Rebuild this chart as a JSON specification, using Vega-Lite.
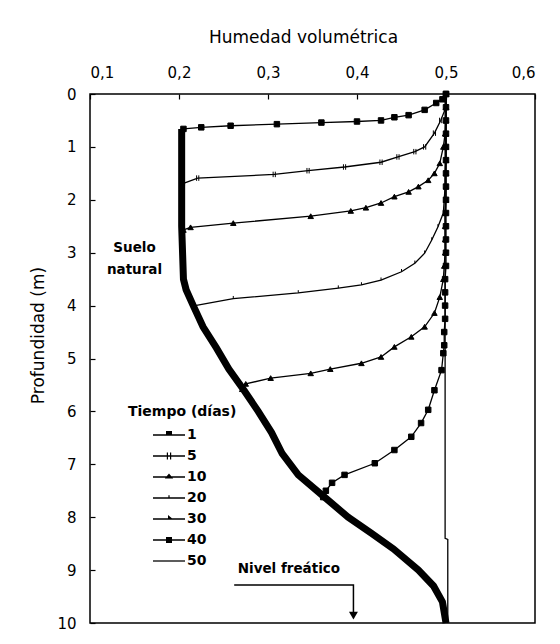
{
  "$schema": "https://vega.github.io/schema/vega-lite/v6.json",
  "width": 445,
  "height": 529,
  "autosize": {"type": "none"},
  "padding": {"left": 90, "top": 94, "right": 25, "bottom": 21},
  "background": "white",
  "config": {
    "font": "DejaVu Sans",
    "view": {"stroke": "black", "strokeWidth": 1.5},
    "axis": {"grid": false, "domain": false, "tickColor": "black", "tickSize": -5, "tickWidth": 1.2, "labelColor": "black", "titleColor": "black", "labelFontSize": 15, "titleFontSize": 17, "titleFontWeight": "normal", "labelPadding": 19}
  },
  "datasets": {
    "curvas": [
      {"dias": 1, "prof": 0, "hum": 0.5}, {"dias": 1, "prof": 0.1, "hum": 0.496}, {"dias": 1, "prof": 0.17, "hum": 0.489}, {"dias": 1, "prof": 0.3, "hum": 0.476}, {"dias": 1, "prof": 0.4, "hum": 0.458}, {"dias": 1, "prof": 0.44, "hum": 0.442}, {"dias": 1, "prof": 0.5, "hum": 0.427}, {"dias": 1, "prof": 0.52, "hum": 0.4}, {"dias": 1, "prof": 0.54, "hum": 0.36}, {"dias": 1, "prof": 0.57, "hum": 0.31}, {"dias": 1, "prof": 0.6, "hum": 0.258}, {"dias": 1, "prof": 0.63, "hum": 0.225}, {"dias": 1, "prof": 0.66, "hum": 0.205},
      {"dias": 5, "prof": 0, "hum": 0.5}, {"dias": 5, "prof": 0.25, "hum": 0.5}, {"dias": 5, "prof": 0.5, "hum": 0.494}, {"dias": 5, "prof": 0.74, "hum": 0.487}, {"dias": 5, "prof": 1.0, "hum": 0.476}, {"dias": 5, "prof": 1.09, "hum": 0.465}, {"dias": 5, "prof": 1.19, "hum": 0.446}, {"dias": 5, "prof": 1.29, "hum": 0.427}, {"dias": 5, "prof": 1.38, "hum": 0.386}, {"dias": 5, "prof": 1.45, "hum": 0.345}, {"dias": 5, "prof": 1.52, "hum": 0.307}, {"dias": 5, "prof": 1.59, "hum": 0.221}, {"dias": 5, "prof": 1.69, "hum": 0.205},
      {"dias": 10, "prof": 0, "hum": 0.5}, {"dias": 10, "prof": 0.25, "hum": 0.5}, {"dias": 10, "prof": 0.5, "hum": 0.5}, {"dias": 10, "prof": 0.75, "hum": 0.499}, {"dias": 10, "prof": 1.0, "hum": 0.497}, {"dias": 10, "prof": 1.31, "hum": 0.493}, {"dias": 10, "prof": 1.5, "hum": 0.487}, {"dias": 10, "prof": 1.63, "hum": 0.48}, {"dias": 10, "prof": 1.75, "hum": 0.469}, {"dias": 10, "prof": 1.85, "hum": 0.458}, {"dias": 10, "prof": 1.94, "hum": 0.442}, {"dias": 10, "prof": 2.06, "hum": 0.427}, {"dias": 10, "prof": 2.15, "hum": 0.41}, {"dias": 10, "prof": 2.21, "hum": 0.393}, {"dias": 10, "prof": 2.31, "hum": 0.348}, {"dias": 10, "prof": 2.44, "hum": 0.261}, {"dias": 10, "prof": 2.52, "hum": 0.213}, {"dias": 10, "prof": 2.57, "hum": 0.205},
      {"dias": 20, "prof": 0, "hum": 0.5}, {"dias": 20, "prof": 0.25, "hum": 0.5}, {"dias": 20, "prof": 0.5, "hum": 0.5}, {"dias": 20, "prof": 0.75, "hum": 0.5}, {"dias": 20, "prof": 1.0, "hum": 0.5}, {"dias": 20, "prof": 1.25, "hum": 0.5}, {"dias": 20, "prof": 1.5, "hum": 0.499}, {"dias": 20, "prof": 1.75, "hum": 0.499}, {"dias": 20, "prof": 2.0, "hum": 0.498}, {"dias": 20, "prof": 2.25, "hum": 0.497}, {"dias": 20, "prof": 2.51, "hum": 0.491}, {"dias": 20, "prof": 2.76, "hum": 0.484}, {"dias": 20, "prof": 3.01, "hum": 0.476}, {"dias": 20, "prof": 3.2, "hum": 0.465}, {"dias": 20, "prof": 3.36, "hum": 0.45}, {"dias": 20, "prof": 3.52, "hum": 0.427}, {"dias": 20, "prof": 3.61, "hum": 0.405}, {"dias": 20, "prof": 3.67, "hum": 0.379}, {"dias": 20, "prof": 3.76, "hum": 0.334}, {"dias": 20, "prof": 3.87, "hum": 0.261}, {"dias": 20, "prof": 4.0, "hum": 0.218},
      {"dias": 30, "prof": 0, "hum": 0.5}, {"dias": 30, "prof": 0.25, "hum": 0.5}, {"dias": 30, "prof": 0.5, "hum": 0.5}, {"dias": 30, "prof": 0.75, "hum": 0.5}, {"dias": 30, "prof": 1.0, "hum": 0.5}, {"dias": 30, "prof": 1.25, "hum": 0.5}, {"dias": 30, "prof": 1.5, "hum": 0.5}, {"dias": 30, "prof": 1.75, "hum": 0.5}, {"dias": 30, "prof": 2.0, "hum": 0.5}, {"dias": 30, "prof": 2.25, "hum": 0.499}, {"dias": 30, "prof": 2.5, "hum": 0.499}, {"dias": 30, "prof": 2.75, "hum": 0.499}, {"dias": 30, "prof": 3.0, "hum": 0.499}, {"dias": 30, "prof": 3.25, "hum": 0.498}, {"dias": 30, "prof": 3.5, "hum": 0.497}, {"dias": 30, "prof": 3.84, "hum": 0.493}, {"dias": 30, "prof": 4.14, "hum": 0.487}, {"dias": 30, "prof": 4.4, "hum": 0.476}, {"dias": 30, "prof": 4.59, "hum": 0.461}, {"dias": 30, "prof": 4.78, "hum": 0.442}, {"dias": 30, "prof": 4.97, "hum": 0.427}, {"dias": 30, "prof": 5.09, "hum": 0.405}, {"dias": 30, "prof": 5.2, "hum": 0.37}, {"dias": 30, "prof": 5.28, "hum": 0.348}, {"dias": 30, "prof": 5.37, "hum": 0.303}, {"dias": 30, "prof": 5.48, "hum": 0.275}, {"dias": 30, "prof": 5.58, "hum": 0.271},
      {"dias": 40, "prof": 0, "hum": 0.5}, {"dias": 40, "prof": 0.25, "hum": 0.5}, {"dias": 40, "prof": 0.5, "hum": 0.5}, {"dias": 40, "prof": 0.75, "hum": 0.5}, {"dias": 40, "prof": 1.0, "hum": 0.5}, {"dias": 40, "prof": 1.25, "hum": 0.5}, {"dias": 40, "prof": 1.5, "hum": 0.5}, {"dias": 40, "prof": 1.75, "hum": 0.5}, {"dias": 40, "prof": 2.0, "hum": 0.5}, {"dias": 40, "prof": 2.25, "hum": 0.5}, {"dias": 40, "prof": 2.5, "hum": 0.5}, {"dias": 40, "prof": 2.75, "hum": 0.5}, {"dias": 40, "prof": 3.0, "hum": 0.5}, {"dias": 40, "prof": 3.25, "hum": 0.5}, {"dias": 40, "prof": 3.5, "hum": 0.499}, {"dias": 40, "prof": 3.75, "hum": 0.499}, {"dias": 40, "prof": 4.0, "hum": 0.499}, {"dias": 40, "prof": 4.25, "hum": 0.499}, {"dias": 40, "prof": 4.5, "hum": 0.498}, {"dias": 40, "prof": 4.75, "hum": 0.498}, {"dias": 40, "prof": 4.9, "hum": 0.497}, {"dias": 40, "prof": 5.22, "hum": 0.495}, {"dias": 40, "prof": 5.6, "hum": 0.487}, {"dias": 40, "prof": 5.97, "hum": 0.48}, {"dias": 40, "prof": 6.22, "hum": 0.472}, {"dias": 40, "prof": 6.48, "hum": 0.461}, {"dias": 40, "prof": 6.73, "hum": 0.442}, {"dias": 40, "prof": 6.98, "hum": 0.42}, {"dias": 40, "prof": 7.2, "hum": 0.386}, {"dias": 40, "prof": 7.35, "hum": 0.372}, {"dias": 40, "prof": 7.5, "hum": 0.365}, {"dias": 40, "prof": 7.62, "hum": 0.362},
      {"dias": 50, "prof": 0, "hum": 0.499}, {"dias": 50, "prof": 8.4, "hum": 0.499}, {"dias": 50, "prof": 8.42, "hum": 0.502}, {"dias": 50, "prof": 10, "hum": 0.502}
    ],
    "natural": [
      {"prof": 0.66, "hum": 0.203}, {"prof": 1.5, "hum": 0.203}, {"prof": 2.5, "hum": 0.203}, {"prof": 3.5, "hum": 0.205}, {"prof": 3.7, "hum": 0.208}, {"prof": 4.0, "hum": 0.216}, {"prof": 4.4, "hum": 0.227}, {"prof": 4.8, "hum": 0.242}, {"prof": 5.2, "hum": 0.256}, {"prof": 5.6, "hum": 0.273}, {"prof": 6.0, "hum": 0.289}, {"prof": 6.4, "hum": 0.304}, {"prof": 6.8, "hum": 0.316}, {"prof": 7.2, "hum": 0.334}, {"prof": 7.6, "hum": 0.362}, {"prof": 8.0, "hum": 0.39}, {"prof": 8.3, "hum": 0.416}, {"prof": 8.6, "hum": 0.441}, {"prof": 9.0, "hum": 0.469}, {"prof": 9.3, "hum": 0.486}, {"prof": 9.6, "hum": 0.496}, {"prof": 10, "hum": 0.5}
    ],
    "textos": [
      {"hum": 0.15, "prof": 2.91, "texto": "Suelo"},
      {"hum": 0.15, "prof": 3.33, "texto": "natural"},
      {"hum": 0.3235, "prof": 8.98, "texto": "Nivel freático"}
    ],
    "flecha": [
      {"paso": 1, "hum": 0.262, "prof": 9.28},
      {"paso": 2, "hum": 0.396, "prof": 9.28},
      {"paso": 3, "hum": 0.396, "prof": 9.8}
    ],
    "punta": [
      {"hum": 0.396, "prof": 9.86}
    ]
  },
  "resolve": {"scale": {"shape": "independent"}},
  "layer": [
    {
      "data": {"name": "natural"},
      "mark": {"type": "line", "color": "black", "strokeWidth": 7, "clip": false},
      "encoding": {
        "x": {"field": "hum", "type": "quantitative", "scale": {"domain": [0.1, 0.6], "nice": false, "zero": false},
          "axis": {"orient": "top", "values": [0.1, 0.2, 0.3, 0.4, 0.5, 0.6], "labelExpr": "replace(format(datum.value, '.1f'), '.', ',')", "title": "Humedad volumétrica", "titleBaseline": "middle", "titleY": -57, "titleX": 213}},
        "y": {"field": "prof", "type": "quantitative", "scale": {"domain": [0, 10], "reverse": true, "nice": false, "zero": false},
          "axis": {"values": [0, 1, 2, 3, 4, 5, 6, 7, 8, 9, 10], "title": "Profundidad (m)", "titleAngle": -90, "titleBaseline": "middle", "titleAlign": "center", "titleX": -52, "titleY": 241}},
        "order": {"field": "prof", "type": "quantitative"}
      }
    },
    {
      "data": {"name": "curvas"},
      "mark": {"type": "line", "color": "black", "strokeWidth": 1.3, "clip": false},
      "encoding": {
        "x": {"field": "hum", "type": "quantitative"},
        "y": {"field": "prof", "type": "quantitative"},
        "detail": {"field": "dias", "type": "nominal"},
        "order": {"field": "prof", "type": "quantitative"}
      }
    },
    {
      "data": {"name": "curvas"},
      "transform": [{"filter": "datum.dias != 50"}],
      "mark": {"type": "point", "filled": true, "color": "black", "stroke": "black", "strokeWidth": 1, "size": 30, "opacity": 1, "clip": false},
      "encoding": {
        "x": {"field": "hum", "type": "quantitative"},
        "y": {"field": "prof", "type": "quantitative"},
        "shape": {"field": "dias", "type": "nominal", "scale": {"domain": [1, 5, 10, 20, 30, 40], "range": ["square", "M-0.4,-1V1M0.4,-1V1", "triangle-up", "M0,-1V0", "triangle-up", "square"]}, "legend": null}
      }
    },
    {
      "data": {"name": "curvas"},
      "mark": {"type": "point", "filled": true, "color": "black", "opacity": 0},
      "encoding": {
        "x": {"field": "hum", "type": "quantitative"},
        "y": {"field": "prof", "type": "quantitative"},
        "shape": {"field": "dias", "type": "nominal", "sort": [1, 5, 10, 20, 30, 40, 50],
          "scale": {"domain": [1, 5, 10, 20, 30, 40, 50], "range": [
            "M2.125,-0.08H6.125V0.08H2.125ZM3.75,-0.5H4.5V0H3.75Z",
            "M2.125,-0.08H6.125V0.08H2.125ZM3.85,-0.45H4V0.45H3.85ZM4.25,-0.45H4.4V0.45H4.25Z",
            "M2.125,-0.08H6.125V0.08H2.125ZM3.6,0.2L4.125,-0.45L4.65,0.2Z",
            "M2.125,-0.08H6.125V0.08H2.125ZM4.05,-0.35H4.2V0H4.05Z",
            "M2.125,-0.08H6.125V0.08H2.125ZM4,-0.5L4.6,0H4Z",
            "M2.125,-0.08H6.125V0.08H2.125ZM3.75,-0.375H4.5V0.375H3.75Z",
            "M2.125,-0.08H6.125V0.08H2.125Z"]},
          "legend": {"orient": "none", "legendX": 38, "legendY": 311, "title": "Tiempo (días)", "titleFontSize": 14, "titleFontWeight": "bold", "titleColor": "black", "titlePadding": 8, "labelFontSize": 14, "labelFontWeight": "bold", "labelColor": "black", "labelOffset": 43, "symbolSize": 256, "rowPadding": 6, "padding": 0,
            "symbolOpacity": 1, "symbolFillColor": "black", "symbolStrokeWidth": 0,
            "encode": {"symbols": {"opacity": {"value": 1}, "fill": {"value": "black"}}}}
        }
      }
    },
    {
      "data": {"name": "textos"},
      "mark": {"type": "text", "font": "DejaVu Sans", "fontSize": 13.5, "fontWeight": "bold", "color": "black", "align": "center", "baseline": "middle"},
      "encoding": {
        "x": {"field": "hum", "type": "quantitative"},
        "y": {"field": "prof", "type": "quantitative"},
        "text": {"field": "texto", "type": "nominal"}
      }
    },
    {
      "data": {"name": "flecha"},
      "mark": {"type": "line", "color": "black", "strokeWidth": 1.5},
      "encoding": {
        "x": {"field": "hum", "type": "quantitative"},
        "y": {"field": "prof", "type": "quantitative"},
        "order": {"field": "paso", "type": "quantitative"}
      }
    },
    {
      "data": {"name": "punta"},
      "mark": {"type": "point", "shape": "triangle-down", "filled": true, "color": "black", "size": 80, "opacity": 1},
      "encoding": {
        "x": {"field": "hum", "type": "quantitative"},
        "y": {"field": "prof", "type": "quantitative"}
      }
    }
  ]
}
